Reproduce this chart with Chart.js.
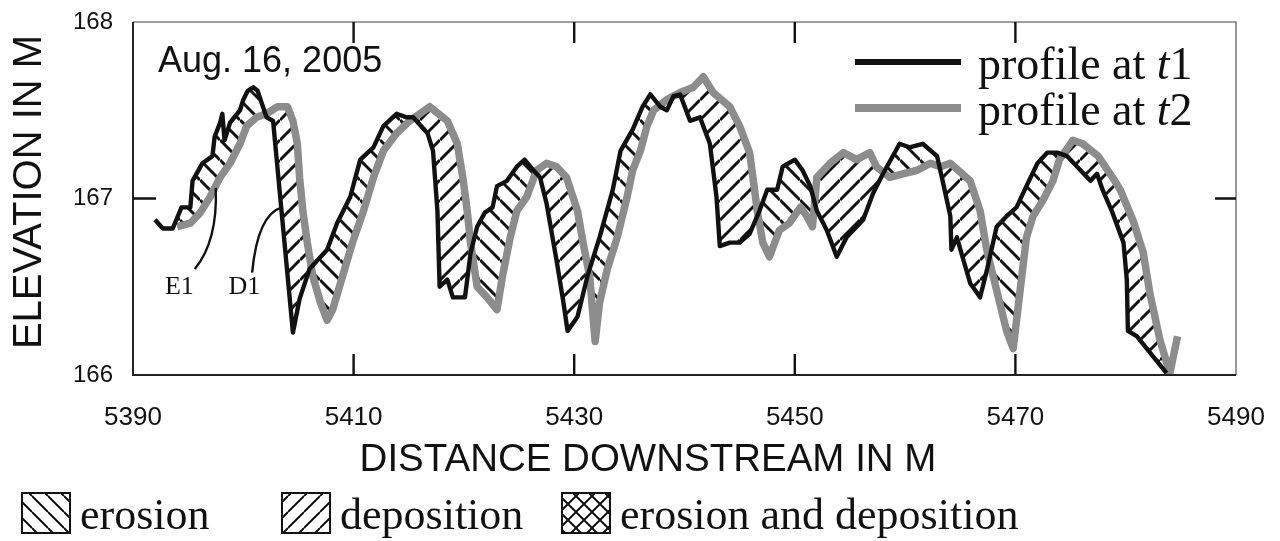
<!DOCTYPE html>
<html>
<head>
<meta charset="utf-8">
<script src="https://cdn.jsdelivr.net/npm/chart.js@4.4.0/dist/chart.umd.min.js"></script>
<style>
  html, body { margin: 0; padding: 0; background: #fff; }
  #wrap { width: 1280px; height: 541px; }
</style>
</head>
<body>
<div id="wrap"><canvas id="profileChart" width="1280" height="541"></canvas></div>
<script>
const $ = (id) => document.getElementById(id);

// profile at t1 (black line)
const t1Dist = [5392.0, 5392.7, 5393.6, 5394.4, 5395.2, 5395.4, 5396.3, 5397.2, 5397.4, 5397.9,
  5398.1, 5398.3, 5398.8, 5399.7, 5400.0, 5400.4, 5400.9, 5401.3, 5402.1, 5402.7,
  5404.5, 5405.1, 5406.0, 5407.6, 5408.5, 5409.7, 5410.6, 5411.8, 5412.7, 5413.9,
  5414.8, 5415.4, 5416.7, 5417.2, 5417.6, 5417.8, 5418.5, 5419.0, 5420.1, 5420.6,
  5421.2, 5421.9, 5422.6, 5423.0, 5423.9, 5424.8, 5425.5, 5426.3, 5426.9, 5427.5,
  5428.4, 5429.0, 5429.4, 5430.3, 5431.2, 5432.3, 5433.5, 5434.2, 5435.3, 5436.2,
  5436.9, 5437.8, 5438.4, 5439.0, 5439.6, 5440.5, 5441.4, 5442.3, 5442.9, 5443.2,
  5444.1, 5445.0, 5445.9, 5446.8, 5447.5, 5448.4, 5448.9, 5450.0, 5450.7, 5451.4,
  5452.0, 5452.9, 5453.8, 5454.7, 5455.3, 5456.2, 5457.1, 5458.0, 5459.5, 5460.4,
  5461.6, 5462.9, 5463.4, 5464.1, 5464.2, 5464.7, 5465.2, 5465.9, 5466.8, 5467.4,
  5468.3, 5469.2, 5470.1, 5471.0, 5472.0, 5472.9, 5473.8, 5474.7, 5475.9, 5476.8,
  5477.4, 5477.9, 5478.8, 5479.8, 5480.1, 5480.2, 5481.0, 5483.7];
const t1Elev = [166.88, 166.83, 166.83, 166.95, 166.95, 167.10, 167.20, 167.24, 167.35, 167.43,
  167.48, 167.33, 167.43, 167.50, 167.56, 167.61, 167.63, 167.61, 167.46, 167.44,
  166.24, 166.43, 166.60, 166.71, 166.86, 167.01, 167.22, 167.29, 167.41, 167.48,
  167.46, 167.46, 167.37, 167.27, 166.93, 166.50, 166.54, 166.44, 166.44, 166.69,
  166.84, 166.92, 166.95, 167.07, 167.10, 167.18, 167.22, 167.16, 167.12, 166.97,
  166.65, 166.42, 166.25, 166.33, 166.56, 166.78, 167.05, 167.27, 167.39, 167.52,
  167.59, 167.52, 167.50, 167.58, 167.59, 167.44, 167.46, 167.31, 167.01, 166.73,
  166.75, 166.75, 166.80, 166.93, 167.05, 167.05, 167.18, 167.22, 167.16, 167.07,
  166.93, 166.82, 166.67, 166.78, 166.82, 166.88, 167.03, 167.14, 167.31, 167.29,
  167.31, 167.24, 167.10, 166.90, 166.71, 166.78, 166.67, 166.52, 166.44, 166.59,
  166.84, 166.90, 166.95, 167.07, 167.20, 167.26, 167.26, 167.24, 167.16, 167.10,
  167.14, 167.05, 166.92, 166.75, 166.54, 166.25, 166.22, 166.01];

// profile at t2 (gray line)
const t2Dist = [5394.0, 5395.2, 5396.1, 5397.0, 5397.9, 5398.8, 5399.7, 5400.3, 5401.2, 5402.1,
  5403.1, 5404.0, 5404.5, 5404.9, 5405.1, 5405.4, 5405.8, 5406.3, 5407.0, 5407.6,
  5408.1, 5409.0, 5409.9, 5410.9, 5411.8, 5412.7, 5413.9, 5415.1, 5416.9, 5418.5,
  5419.4, 5419.9, 5420.3, 5420.6, 5421.2, 5422.1, 5423.0, 5423.5, 5424.2, 5424.8,
  5425.7, 5426.6, 5427.5, 5428.4, 5429.3, 5430.3, 5430.8, 5431.4, 5431.9, 5432.3,
  5433.0, 5433.9, 5434.8, 5435.3, 5436.0, 5436.6, 5437.2, 5438.4, 5439.6, 5440.8,
  5441.7, 5442.6, 5444.1, 5445.0, 5445.9, 5446.2, 5446.6, 5447.1, 5447.7, 5448.6,
  5449.5, 5450.5, 5451.1, 5451.6, 5452.0, 5453.2, 5454.4, 5455.6, 5456.8, 5457.4,
  5458.6, 5459.8, 5461.1, 5462.3, 5463.2, 5464.1, 5465.9, 5466.8, 5467.4, 5468.3,
  5469.2, 5469.8, 5471.0, 5471.6, 5472.5, 5473.4, 5474.0, 5475.2, 5476.1, 5477.5,
  5478.8, 5479.5, 5480.7, 5481.6, 5482.2, 5483.1, 5484.0, 5484.7];
const t2Elev = [166.84, 166.86, 166.92, 167.01, 167.12, 167.20, 167.31, 167.41, 167.46, 167.48,
  167.52, 167.52, 167.44, 167.31, 167.12, 166.93, 166.75, 166.56, 166.41, 166.31,
  166.37, 166.56, 166.75, 166.93, 167.12, 167.27, 167.37, 167.44, 167.52, 167.44,
  167.31, 167.12, 166.93, 166.75, 166.50, 166.44, 166.37, 166.56, 166.78, 166.93,
  167.01, 167.16, 167.20, 167.18, 167.12, 166.93, 166.75, 166.56, 166.19, 166.41,
  166.60, 166.78, 167.01, 167.16, 167.27, 167.41, 167.50, 167.56, 167.60, 167.63,
  167.69, 167.60, 167.52, 167.41, 167.26, 167.12, 166.93, 166.75, 166.67, 166.82,
  166.86, 166.95, 166.90, 166.84, 167.12, 167.20, 167.26, 167.22, 167.26, 167.18,
  167.12, 167.14, 167.16, 167.20, 167.18, 167.20, 167.10, 166.93, 166.71, 166.48,
  166.25, 166.15, 166.78, 166.90, 166.99, 167.10, 167.22, 167.33, 167.31, 167.24,
  167.12, 167.05, 166.87, 166.69, 166.46, 166.20, 166.01, 166.22];

const xTicks = [5390, 5410, 5430, 5450, 5470, 5490];
const yTicks = [166, 167, 168];
const seriesNames = ['profile at t1', 'profile at t2'];
const hatchNames = ['erosion', 'deposition', 'erosion and deposition'];
const dateText = 'Aug. 16, 2005';
const xTitle = 'DISTANCE DOWNSTREAM IN M';
const yTitle = 'ELEVATION IN M';

// E1 / D1 markers: label position and leader curve (start, bend, end) in data units
const markerNames = ['E1', 'D1'];
const markerDist = [5394.2, 5400.1];
const markerElev = [166.50, 166.50];
const leaderDist = [[5395.6, 5397.7, 5397.5], [5400.8, 5401.3, 5403.5]];
const leaderElev = [[166.60, 166.76, 167.06], [166.58, 166.91, 166.95]];

const SANS = '"Liberation Sans", Arial, sans-serif';
const SERIF = '"Liberation Serif", "Times New Roman", serif';

// hatch patterns: 'ero' = \\\ , 'dep' = /// , 'both' = crossed
function hatch(kind, size, lw) {
    const c = document.createElement('canvas');
    c.width = c.height = size;
    const g = c.getContext('2d');
    g.strokeStyle = '#111';
    g.lineWidth = lw;
    g.beginPath();
    for (let k = -1; k <= 1; k++) {
        if (kind !== 'dep') { g.moveTo(0, k * size); g.lineTo(size, size + k * size); }
        if (kind !== 'ero') { g.moveTo(0, size + k * size); g.lineTo(size, k * size); }
    }
    g.stroke();
    return g.createPattern(c, 'repeat');
}

const erosionFill = hatch('ero', 20, 3);
const depositionFill = hatch('dep', 20, 3);

const toPoints = (xs, ys) => xs.map((x, i) => ({ x, y: ys[i] }));

// frame with inward tick marks
const framePlugin = {
    id: 'frame',
    afterDatasetsDraw(chart) {
        const { ctx, chartArea: a, scales: { x, y } } = chart;
        ctx.save();
        ctx.lineCap = 'butt';
        ctx.strokeStyle = '#808080';
        ctx.lineWidth = 1.6;
        ctx.beginPath();
        ctx.moveTo(a.left, a.top); ctx.lineTo(a.right, a.top); ctx.lineTo(a.right, a.bottom);
        ctx.stroke();
        ctx.strokeStyle = '#222';
        ctx.lineWidth = 2;
        ctx.beginPath();
        ctx.moveTo(a.left, a.top); ctx.lineTo(a.left, a.bottom); ctx.lineTo(a.right, a.bottom);
        ctx.stroke();

        ctx.strokeStyle = '#111';
        ctx.lineWidth = 2.4;
        ctx.beginPath();
        x.ticks.forEach(t => {
            if (t.value <= x.min || t.value >= x.max) return;
            const px = x.getPixelForValue(t.value);
            ctx.moveTo(px, a.top); ctx.lineTo(px, a.top + 21);
            ctx.moveTo(px, a.bottom); ctx.lineTo(px, a.bottom - 21);
        });
        y.ticks.forEach(t => {
            if (t.value <= y.min || t.value >= y.max) return;
            const py = y.getPixelForValue(t.value);
            ctx.moveTo(a.left, py); ctx.lineTo(a.left + 23, py);
            ctx.moveTo(a.right, py); ctx.lineTo(a.right - 21, py);
        });
        ctx.stroke();
        ctx.restore();
    }
};

// texts, markers and legends
const notesPlugin = {
    id: 'notes',
    afterDraw(chart) {
        const { ctx, scales: { x, y } } = chart;
        ctx.save();
        ctx.fillStyle = '#111';

        // date
        ctx.font = `36px ${SANS}`;
        ctx.textAlign = 'left';
        ctx.textBaseline = 'alphabetic';
        ctx.fillText(dateText, 158, 72);

        // E1 / D1 leaders
        ctx.strokeStyle = '#111';
        ctx.lineWidth = 2.4;
        leaderDist.forEach((xs, i) => {
            const ys = leaderElev[i];
            ctx.beginPath();
            ctx.moveTo(x.getPixelForValue(xs[0]), y.getPixelForValue(ys[0]));
            ctx.quadraticCurveTo(x.getPixelForValue(xs[1]), y.getPixelForValue(ys[1]),
                x.getPixelForValue(xs[2]), y.getPixelForValue(ys[2]));
            ctx.stroke();
        });
        ctx.font = `26px ${SERIF}`;
        ctx.textAlign = 'center';
        ctx.textBaseline = 'middle';
        markerNames.forEach((m, i) => {
            ctx.fillText(m, x.getPixelForValue(markerDist[i]), y.getPixelForValue(markerElev[i]));
        });

        // series legend (top right)
        const rows = [{ color: '#111', width: 6, y: 62 }, { color: '#8c8c8c', width: 8, y: 108 }];
        rows.forEach((r, i) => {
            ctx.strokeStyle = r.color;
            ctx.lineWidth = r.width;
            ctx.beginPath();
            ctx.moveTo(855, r.y); ctx.lineTo(961, r.y);
            ctx.stroke();
            const base = r.y + 17;
            const name = seriesNames[i];
            const head = name.slice(0, -2);
            ctx.textAlign = 'left';
            ctx.textBaseline = 'alphabetic';
            ctx.font = `46px ${SERIF}`;
            let px = 978;
            ctx.fillText(head, px, base);
            px += ctx.measureText(head).width;
            ctx.font = `italic 46px ${SERIF}`;
            ctx.fillText(name.slice(-2, -1), px, base);
            px += ctx.measureText(name.slice(-2, -1)).width;
            ctx.font = `46px ${SERIF}`;
            ctx.fillText(name.slice(-1), px, base);
        });

        // axis titles
        ctx.font = `38.5px ${SANS}`;
        ctx.textAlign = 'center';
        ctx.textBaseline = 'middle';
        ctx.fillText(xTitle, 648, 460);
        ctx.save();
        ctx.translate(30, 192);
        ctx.rotate(-Math.PI / 2);
        ctx.font = `40px ${SANS}`;
        ctx.fillText(yTitle, 0, 0);
        ctx.restore();

        // hatch legend (bottom)
        const kinds = ['ero', 'dep', 'both'];
        const boxX = [22, 282, 562];
        kinds.forEach((k, i) => {
            ctx.fillStyle = hatch(k, 16, 2);
            ctx.fillRect(boxX[i], 493, 48, 40);
            ctx.strokeStyle = '#111';
            ctx.lineWidth = 2;
            ctx.strokeRect(boxX[i], 493, 48, 40);
            ctx.fillStyle = '#111';
            ctx.font = `44px ${SERIF}`;
            ctx.textAlign = 'left';
            ctx.textBaseline = 'alphabetic';
            ctx.fillText(hatchNames[i], boxX[i] + 58, 529);
        });
        ctx.restore();
    }
};

const chart = new Chart($('profileChart'), {
    type: 'line',
    data: {
        datasets: [
            {
                label: seriesNames[0],
                data: toPoints(t1Dist, t1Elev),
                borderColor: '#111',
                borderWidth: 4.4,
                borderJoinStyle: 'round',
                pointRadius: 0,
                tension: 0,
                fill: { target: 1, above: erosionFill, below: depositionFill }
            },
            {
                label: seriesNames[1],
                data: toPoints(t2Dist, t2Elev),
                borderColor: '#8c8c8c',
                borderWidth: 7.5,
                borderJoinStyle: 'round',
                pointRadius: 0,
                tension: 0,
                fill: false
            }
        ]
    },
    options: {
        responsive: false,
        animation: false,
        devicePixelRatio: 1,
        layout: { padding: { top: 22, right: 44, left: 0, bottom: 0 } },
        plugins: {
            legend: { display: false },
            tooltip: { enabled: false },
            filler: { drawTime: 'beforeDatasetsDraw' }
        },
        scales: {
            x: {
                type: 'linear',
                min: xTicks[0],
                max: xTicks[xTicks.length - 1],
                afterBuildTicks: s => { s.ticks = xTicks.map(v => ({ value: v })); },
                afterFit: s => { s.height = 166; s.paddingLeft = 0; s.paddingRight = 0; },
                grid: { display: false, drawTicks: false },
                border: { display: false },
                ticks: {
                    color: '#111', font: { family: SANS, size: 26 }, padding: 27,
                    maxRotation: 0, autoSkip: false, callback: v => String(v)
                }
            },
            y: {
                min: yTicks[0],
                max: yTicks[yTicks.length - 1],
                afterBuildTicks: s => { s.ticks = yTicks.map(v => ({ value: v })); },
                afterFit: s => { s.width = 133; s.paddingTop = 0; s.paddingBottom = 0; },
                grid: { display: false, drawTicks: false },
                border: { display: false },
                ticks: { color: '#111', font: { family: SANS, size: 24 }, padding: 20, callback: v => String(v) }
            }
        }
    },
    plugins: [framePlugin, notesPlugin]
});
</script>
</body>
</html>
